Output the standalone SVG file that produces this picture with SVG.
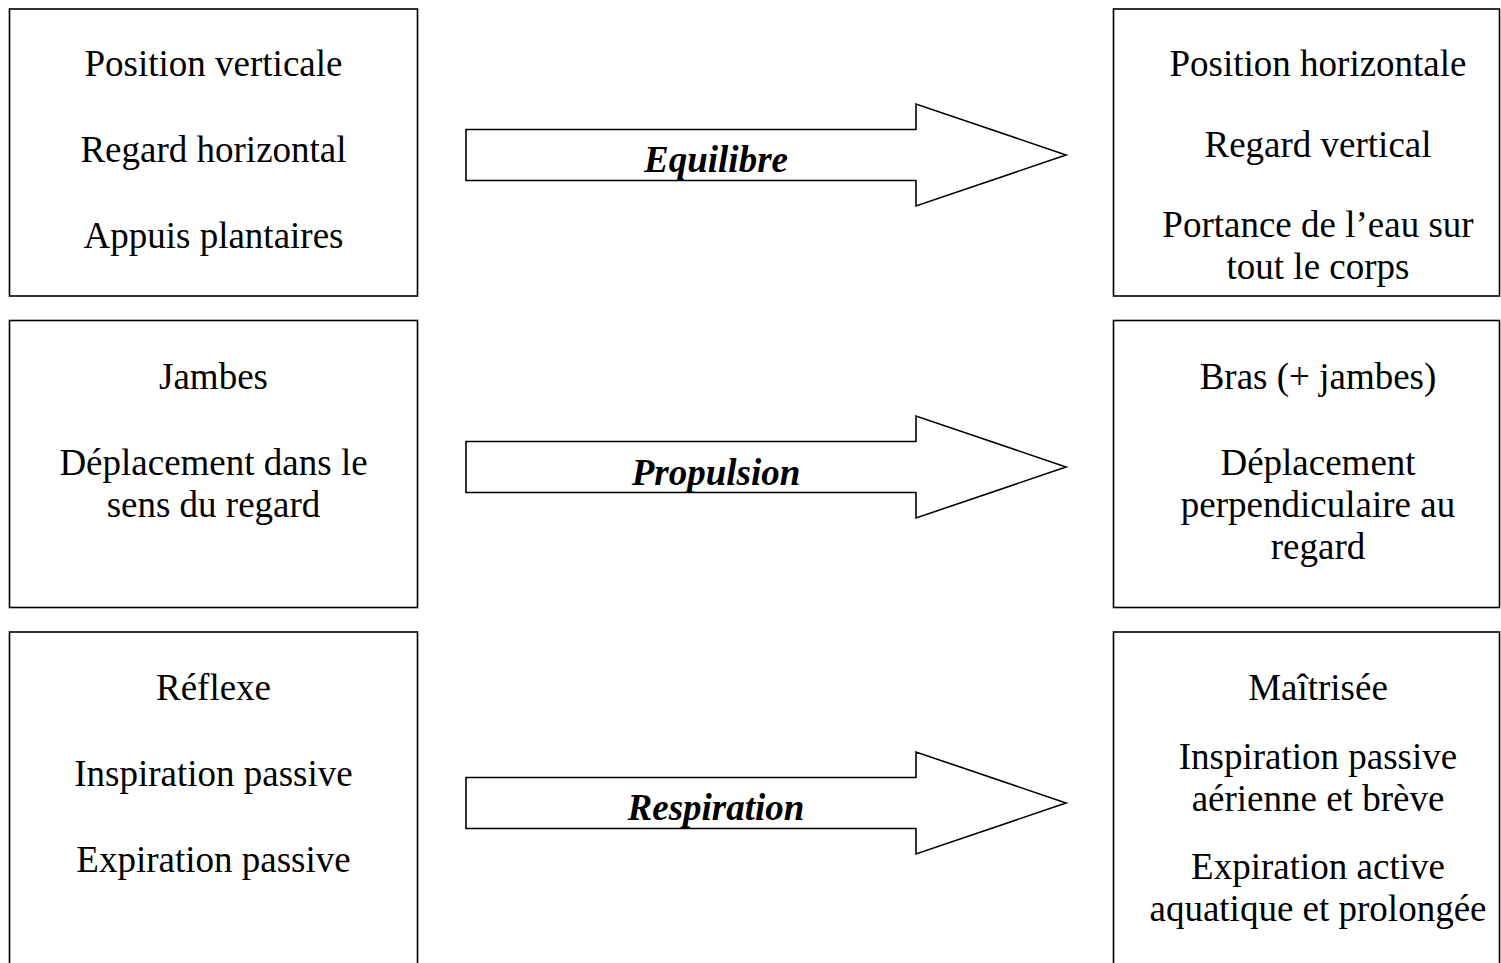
<svg xmlns="http://www.w3.org/2000/svg" width="1501" height="963" viewBox="0 0 1501 963">
<style>
.box{fill:#fff;stroke:#000;stroke-width:1.6}
.arr{fill:#fff;stroke:#000;stroke-width:1.6;stroke-linejoin:miter}
.t{font-family:"Liberation Serif","Times New Roman",serif;font-size:37px;fill:#000;text-anchor:middle}
.lbl{font-family:"Liberation Serif","Times New Roman",serif;font-size:37px;font-weight:bold;font-style:italic;fill:#000;text-anchor:middle}
</style>
<rect width="1501" height="963" fill="#fff"/>
<g id="box-l1"><rect class="box" x="9.5" y="9" width="408" height="287"/>
<text class="t" x="213.5" y="76">Position verticale</text>
<text class="t" x="213.5" y="162">Regard horizontal</text>
<text class="t" x="213.5" y="248">Appuis plantaires</text></g>
<g id="box-r1"><rect class="box" x="1113.5" y="9" width="386" height="287"/>
<text class="t" x="1318" y="76">Position horizontale</text>
<text class="t" x="1318" y="157">Regard vertical</text>
<text class="t" x="1318" y="237">Portance de l’eau sur</text>
<text class="t" x="1318" y="279">tout le corps</text></g>
<g id="box-l2"><rect class="box" x="9.5" y="320.5" width="408" height="287"/>
<text class="t" x="213.5" y="389">Jambes</text>
<text class="t" x="213.5" y="475">Déplacement dans le</text>
<text class="t" x="213.5" y="517">sens du regard</text></g>
<g id="box-r2"><rect class="box" x="1113.5" y="320.5" width="386" height="287"/>
<text class="t" x="1318" y="389">Bras (+ jambes)</text>
<text class="t" x="1318" y="475">Déplacement</text>
<text class="t" x="1318" y="517">perpendiculaire au</text>
<text class="t" x="1318" y="559">regard</text></g>
<g id="box-l3"><rect class="box" x="9.5" y="632" width="408" height="340"/>
<text class="t" x="213.5" y="700">Réflexe</text>
<text class="t" x="213.5" y="786">Inspiration passive</text>
<text class="t" x="213.5" y="872">Expiration passive</text></g>
<g id="box-r3"><rect class="box" x="1113.5" y="632" width="386" height="340"/>
<text class="t" x="1318" y="700">Maîtrisée</text>
<text class="t" x="1318" y="769">Inspiration passive</text>
<text class="t" x="1318" y="811">aérienne et brève</text>
<text class="t" x="1318" y="879">Expiration active</text>
<text class="t" x="1318" y="921">aquatique et prolongée</text></g>
<g id="connectors">
<g id="arrow-equilibre"><path class="arr" d="M466,129.5 H916 V104 L1066,155 L916,206 V180.5 H466 Z"/>
<text class="lbl" x="716" y="172">Equilibre</text></g>
<g id="arrow-propulsion"><path class="arr" d="M466,441.5 H916 V416 L1066,467 L916,518 V492.5 H466 Z"/>
<text class="lbl" x="716" y="485">Propulsion</text></g>
<g id="arrow-respiration"><path class="arr" d="M466,777.5 H916 V752 L1066,803 L916,854 V828.5 H466 Z"/>
<text class="lbl" x="716" y="820">Respiration</text></g>
</g>
</svg>
